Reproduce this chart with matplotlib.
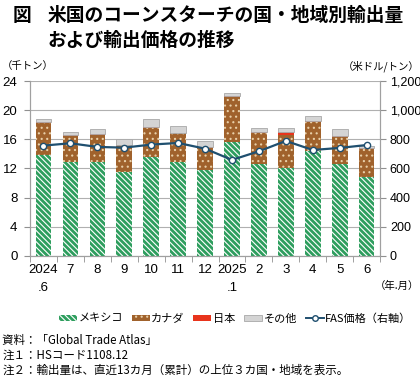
import numpy as np
import matplotlib
matplotlib.use("Agg")
from matplotlib import pyplot as plt
from matplotlib.patches import Patch
from matplotlib.lines import Line2D

plt.rcParams['font.family'] = ['Noto Sans CJK JP', 'DejaVu Sans']
plt.rcParams['hatch.linewidth'] = 0.8

months = ["2024\n.6", "7", "8", "9", "10", "11", "12", "2025\n.1", "2", "3", "4", "5", "6"]
mexico = [13.9, 12.9, 12.9, 11.5, 13.6, 12.9, 11.8, 15.7, 12.6, 12.05, 14.45, 12.6, 10.8]
canada = [4.3, 3.55, 3.7, 3.7, 3.95, 3.9, 3.0, 6.1, 4.3, 4.6, 3.95, 3.7, 3.9]
japan = [0.15, 0.1, 0.1, 0.05, 0.1, 0.05, 0.1, 0.2, 0.1, 0.3, 0.1, 0.15, 0.1]
others = [0.4, 0.5, 0.7, 0.8, 1.15, 0.95, 0.9, 0.35, 0.6, 0.55, 0.75, 0.95, 0.3]
fas_price = [757, 773, 748, 743, 764, 775, 736, 659, 718, 789, 727, 741, 761]

x = np.arange(len(months))
width = 0.58

fig = plt.figure(figsize=(4.2, 3.78), dpi=100)
ax = fig.add_axes([0.0714, 0.3228, 0.8336, 0.4629])
ax2 = ax.twinx()

green = '#2e9e5e'
brown = '#a0622c'
mex_hatch = '\\' * 6
bottom = np.zeros(len(x))
ax.bar(x, mexico, width, bottom=bottom, color=green, edgecolor='white',
       hatch=mex_hatch, linewidth=0, zorder=3)
bottom += mexico
ax.bar(x, canada, width, bottom=bottom, color=brown, edgecolor='#e8cfa8',
       hatch='...', linewidth=0, zorder=3)
bottom += canada
ax.bar(x, japan, width, bottom=bottom, color='#e8341c', linewidth=0, zorder=3)
bottom += japan
ax.bar(x, others, width, bottom=bottom, color='#d4d4d4', edgecolor='#a8a8a8',
       linewidth=0.6, zorder=3)

ax2.plot(x, fas_price, color='#1f4f6f', linewidth=1.6, marker='o', markersize=4.5,
         markerfacecolor='white', markeredgecolor='#1f4f6f', markeredgewidth=1.0, zorder=5)

ax.set_xlim(-0.5, len(x) - 0.5)
ax.set_ylim(0, 24)
ax2.set_ylim(0, 1200)
ax.set_yticks(np.arange(0, 25, 4))
ax2.set_yticks(np.arange(0, 1201, 200))
ax2.set_yticklabels([f"{v:,}" for v in range(0, 1201, 200)])
ax.grid(axis='y', color='#b0b0b0', linewidth=0.8, zorder=0)
ax.set_axisbelow(True)

ax.set_xticks(x)
ax.set_xticklabels(months, linespacing=1.6, va='top')
ax.set_xticks(np.arange(-0.5, len(x), 1), minor=True)
ax.tick_params(axis='x', which='major', length=0, pad=6, labelsize=9.5,
               labelfontfamily='Liberation Sans')
ax.tick_params(axis='x', which='minor', length=4, color='#909090', direction='out')
ax.tick_params(axis='y', length=4, color='#909090', pad=5, labelsize=9.5,
               labelfontfamily='Liberation Sans')
ax2.tick_params(axis='y', length=4, color='#909090', pad=3, labelsize=9,
                labelfontfamily='Liberation Sans')

for a in (ax, ax2):
    a.spines['top'].set_visible(False)
    for s in ('left', 'right', 'bottom'):
        a.spines[s].set_color('#a0a0a0')

fig.text(0.005, 0.825, "（千トン）", fontsize=7.5, ha='left', va='center')
fig.text(0.998, 0.825, "（米ドル/トン）", fontsize=7.5, ha='right', va='center')
fig.text(0.998, 0.245, "（年.月）", fontsize=7.5, ha='right', va='center')

fig.text(0.03, 0.958, "図", fontsize=13.5, weight='bold', ha='left', va='center')
fig.text(0.113, 0.958, "米国のコーンスターチの国・地域別輸出量", fontsize=13.5, weight='bold',
         ha='left', va='center')
fig.text(0.113, 0.893, "および輸出価格の推移", fontsize=13.5, weight='bold',
         ha='left', va='center')

handles = [
    Patch(facecolor=green, edgecolor='white', hatch=mex_hatch, linewidth=0),
    Patch(facecolor=brown, edgecolor='#e8cfa8', hatch='...', linewidth=0),
    Patch(facecolor='#e8341c', linewidth=0),
    Patch(facecolor='#d4d4d4', edgecolor='#a8a8a8', linewidth=0.6),
    Line2D([0], [0], color='#1f4f6f', linewidth=1.4, marker='o', markersize=4,
           markerfacecolor='white', markeredgecolor='#1f4f6f'),
]
labels = ["メキシコ", "カナダ", "日本", "その他", "FAS価格（右軸）"]
fig.legend(handles, labels, loc='center', bbox_to_anchor=(0.56, 0.158), ncol=5,
           frameon=False, fontsize=8, handlelength=1.6, handleheight=0.45,
           handletextpad=0.15, columnspacing=0.8, borderpad=0)

fig.text(0.005, 0.1, "資料：「Global Trade Atlas」", fontsize=8.3, ha='left', va='center')
fig.text(0.005, 0.06, "注１：HSコード1108.12", fontsize=8.3, ha='left', va='center')
fig.text(0.005, 0.02, "注２：輸出量は、直近13カ月（累計）の上位３カ国・地域を表示。", fontsize=8.3,
         ha='left', va='center')

fig.savefig("out.png", dpi=100)
